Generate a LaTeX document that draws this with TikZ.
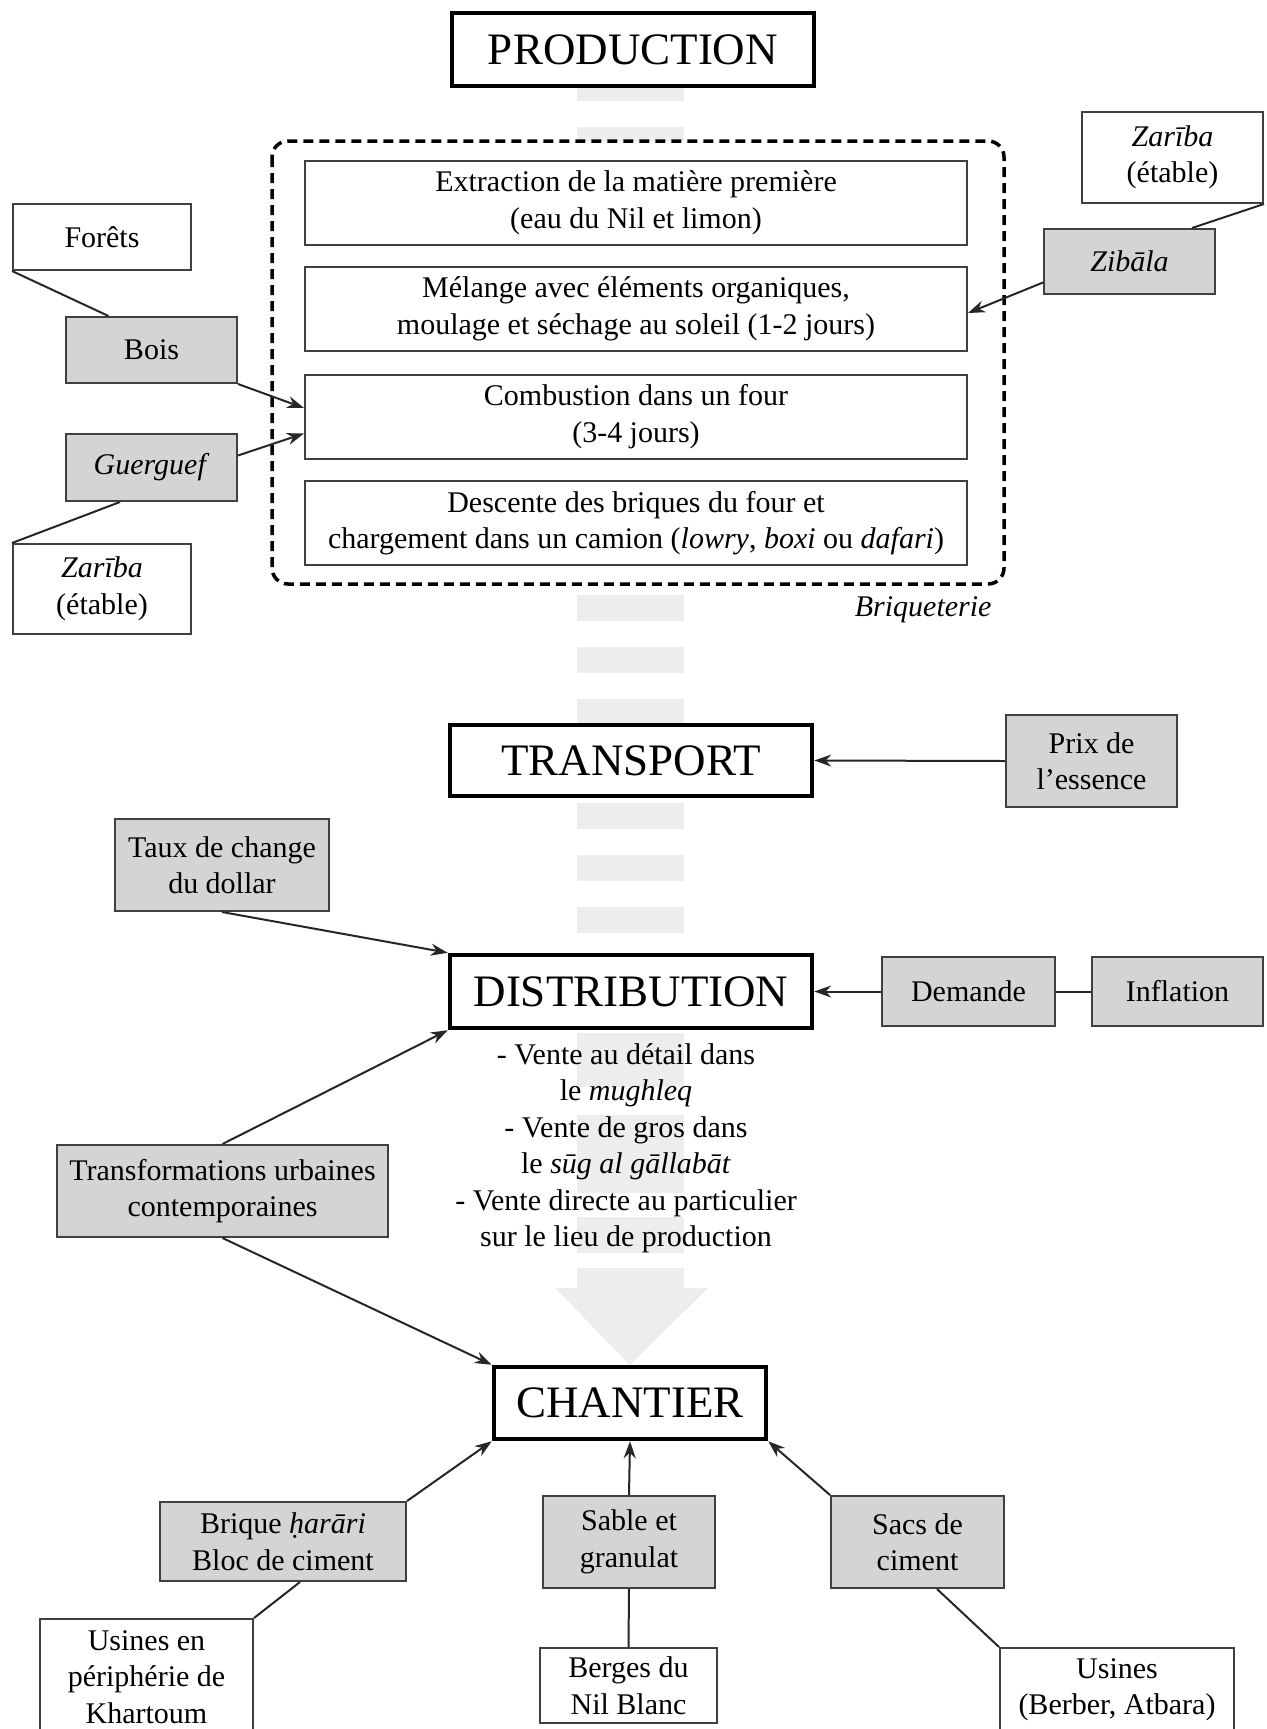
\documentclass[tikz,border=0pt]{standalone}
\usepackage{fontspec}
\setmainfont{Liberation Serif}
\usetikzlibrary{arrows.meta}
\definecolor{band}{HTML}{ECEDEC}
\definecolor{gfill}{HTML}{D4D4D4}
\definecolor{bord}{HTML}{404040}
\begin{document}
\begin{tikzpicture}[x=1pt,y=-1pt,
  box/.style={draw=bord, line width=2pt, fill=white, align=center, inner sep=0pt,
    font=\fontsize{30}{36.5}\selectfont},
  gbox/.style={box, fill=gfill},
  mainbox/.style={draw=black, line width=4.5pt, fill=white, inner sep=0pt,
    font=\fontsize{45}{54}\selectfont},
  conn/.style={line width=2pt, draw=black!85},
  arr/.style={conn, -{Stealth[length=17pt,width=12pt]}},
  bandpart/.style={fill=band, draw=none}]
\useasboundingbox (0,0) rectangle (1266,1729);
% background dashed band
\foreach \a/\b in {75/101,127/153,595/621,647/673,699/725,751/777,803/829,855/881,907/933,959/985,1033/1087,1115/1193,1217/1253}
  {\fill[bandpart] (577,\a) rectangle (684,\b);}
\fill[bandpart] (577,1268) rectangle (684,1289);
\fill[bandpart] (555,1288) -- (708,1288) -- (630,1365) -- cycle;

% main boxes
\node[mainbox, minimum width=362, minimum height=73] (prod) at (633,49.5) {PRODUCTION};
\node[mainbox, minimum width=362, minimum height=71] (trans) at (631,760.5) {TRANSPORT};
\node[mainbox, minimum width=362, minimum height=73] (dist) at (631,991.5) {DISTRIBUTION};
\node[mainbox, minimum width=272, minimum height=72] (chant) at (630,1403) {CHANTIER};

% briqueterie frame
\draw[line width=3.5pt, dash pattern=on 10pt off 6pt, rounded corners=16pt, fill=white]
  (272,141) rectangle (1004,584);
\node[anchor=east, font=\fontsize{30}{36}\selectfont\itshape] (briq) at (995,610) {Briqueterie};

\node[box, minimum width=662, minimum height=84] (c1) at (636,203)
  {Extraction de la matière première\\(eau du Nil et limon)};
\node[box, minimum width=662, minimum height=84] (c2) at (636,309)
  {Mélange avec éléments organiques,\\moulage et séchage au soleil (1-2 jours)};
\node[box, minimum width=662, minimum height=84] (c3) at (636,416.5)
  {Combustion dans un four\\(3-4 jours)};
\node[box, minimum width=662, minimum height=84] (c4) at (636,523)
  {Descente des briques du four et\\chargement dans un camion (\textit{lowry}, \textit{boxi} ou \textit{dafari})};

% left side
\node[box, minimum width=178, minimum height=66] (forets) at (102,237) {Forêts};
\node[gbox, minimum width=171, minimum height=66] (bois) at (151.5,350) {Bois};
\node[gbox, minimum width=171, minimum height=67] (guer) at (151.5,467.5) {\textit{Guerguef}};
\node[box, minimum width=178, minimum height=90] (zarl) at (102,589) {\textit{Zarība}\\(étable)};
% right side
\node[box, minimum width=181, minimum height=91] (zarr) at (1172.5,157.5) {\textit{Zarība}\\(étable)};
\node[gbox, minimum width=171, minimum height=65] (zib) at (1129.5,261.5) {\textit{Zibāla}};

\draw[conn] (forets.south west) -- ([xshift=-43pt]bois.north);
\draw[conn] (zarr.south east) -- ([xshift=-24pt]zib.north east);
\draw[conn] ([xshift=55pt]guer.south west) -- (zarl.north west);
\draw[arr] (bois.south east) -- ([yshift=8.5pt]c3.west);
\draw[arr] ([yshift=12pt]guer.east) -- ([yshift=-17pt]c3.west);
\draw[arr] ([yshift=-21pt]zib.west) -- ([yshift=-4pt]c2.east);

% transport / distribution
\node[gbox, minimum width=171, minimum height=92] (prix) at (1091.5,761) {Prix de\\l’essence};
\node[gbox, minimum width=214, minimum height=92] (taux) at (222,865) {Taux de change\\du dollar};
\node[gbox, minimum width=173, minimum height=69] (dem) at (968.5,991.5) {Demande};
\node[gbox, minimum width=171, minimum height=69] (infl) at (1177.5,991.5) {Inflation};
\node[gbox, minimum width=331, minimum height=92] (transf) at (222.5,1191) {Transformations urbaines\\contemporaines};
\node[align=center, inner sep=0pt, font=\fontsize{30}{36.5}\selectfont] (dtext) at (626,1148)
  {- Vente au détail dans\\le \textit{mughleq}\\- Vente de gros dans\\le \textit{sūg al gāllabāt}\\- Vente directe au particulier\\sur le lieu de production};

\draw[arr] (prix.west) -- (trans.east);
\draw[arr] (taux.south) -- (dist.north west);
\draw[arr] (dem.west) -- (dist.east);
\draw[conn] (dem.east) -- (infl.west);
\draw[arr] (transf.north) -- (dist.south west);
\draw[arr] (transf.south) -- (chant.north west);

% chantier
\node[gbox, minimum width=246, minimum height=79] (briq2) at (283,1541.5) {Brique \textit{ḥarāri}\\Bloc de ciment};
\node[gbox, minimum width=172, minimum height=92] (sable) at (629,1542) {Sable et\\granulat};
\node[gbox, minimum width=173, minimum height=92] (sacs) at (917.5,1542) {Sacs de\\ciment};
\node[box, minimum width=213, minimum height=116] (usl) at (146.5,1677) {Usines en\\périphérie de\\Khartoum};
\node[box, minimum width=177, minimum height=75] (berg) at (628.5,1685.5) {Berges du\\Nil Blanc};
\node[box, minimum width=234, minimum height=87, text depth=10pt] (usr) at (1117,1691.5) {Usines\\(Berber, Atbara)};

\draw[arr] (briq2.north east) -- (chant.south west);
\draw[arr] (sable.north) -- (chant.south);
\draw[arr] (sacs.north west) -- (chant.south east);
\draw[conn] ([xshift=17pt]briq2.south) -- (usl.north east);
\draw[conn] (sable.south) -- (berg.north);
\draw[conn] ([xshift=19.5pt]sacs.south) -- (usr.north west);
\end{tikzpicture}
\end{document}
